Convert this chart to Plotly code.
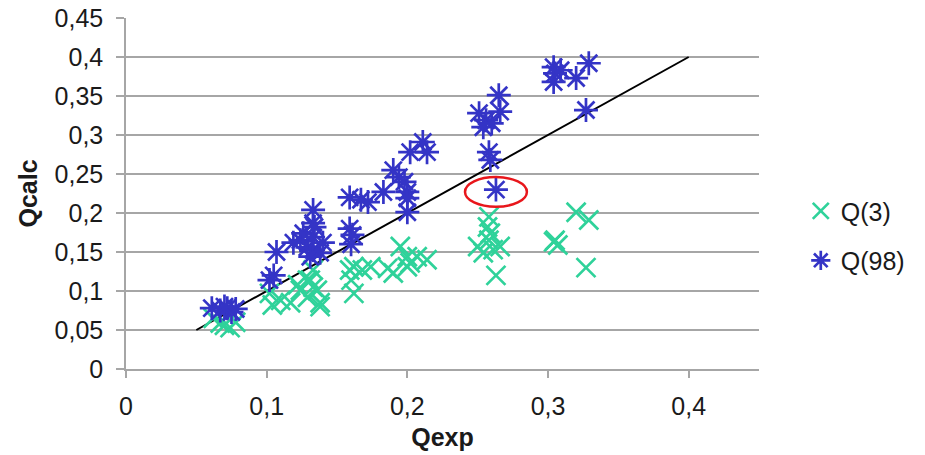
import plotly.graph_objects as go

# ---- data ----
q3_x = [0.062, 0.067, 0.074, 0.078, 0.070,
        0.102, 0.104, 0.110, 0.117, 0.124, 0.131, 0.133, 0.136, 0.138, 0.129, 0.122, 0.129, 0.133, 0.138,
        0.159, 0.160, 0.162, 0.168, 0.162, 0.174, 0.186, 0.195, 0.200, 0.200, 0.190, 0.207, 0.214, 0.202,
        0.258, 0.257, 0.259, 0.258, 0.250, 0.266, 0.254, 0.261, 0.263,
        0.304, 0.307, 0.305, 0.320, 0.329, 0.327]
q3_y = [0.065, 0.059, 0.053, 0.060, 0.056,
        0.097, 0.082, 0.088, 0.085, 0.101, 0.114, 0.127, 0.101, 0.085, 0.092, 0.108, 0.114, 0.105, 0.080,
        0.127, 0.114, 0.097, 0.127, 0.131, 0.131, 0.129, 0.157, 0.144, 0.131, 0.123, 0.144, 0.140, 0.136,
        0.195, 0.182, 0.174, 0.165, 0.157, 0.157, 0.149, 0.153, 0.120,
        0.163, 0.159, 0.165, 0.201, 0.191, 0.130]

q98_x = [0.061, 0.067, 0.072, 0.075, 0.078, 0.070,
         0.102, 0.105, 0.107,
         0.119, 0.124, 0.129, 0.133, 0.138, 0.126, 0.133, 0.140, 0.131, 0.133, 0.133, 0.134,
         0.159, 0.160, 0.161, 0.159, 0.167, 0.172,
         0.183, 0.190, 0.194, 0.198, 0.200, 0.200, 0.200, 0.202, 0.211, 0.214,
         0.251, 0.256, 0.254, 0.260, 0.265, 0.266, 0.258, 0.259, 0.263,
         0.304, 0.305, 0.304, 0.309, 0.320, 0.329, 0.327]
q98_y = [0.078, 0.075, 0.078, 0.073, 0.077, 0.080,
         0.114, 0.120, 0.150,
         0.162, 0.165, 0.156, 0.153, 0.149, 0.174, 0.169, 0.162, 0.144, 0.187, 0.204, 0.182,
         0.180, 0.160, 0.172, 0.220, 0.217, 0.214,
         0.227, 0.255, 0.246, 0.240, 0.227, 0.219, 0.201, 0.278, 0.291, 0.278,
         0.328, 0.319, 0.310, 0.315, 0.351, 0.330, 0.278, 0.268, 0.230,
         0.387, 0.379, 0.368, 0.383, 0.373, 0.392, 0.332]

ref_line_x = [0.05, 0.4]
ref_line_y = [0.05, 0.4]

# highlighted point (red ellipse bounds, data units)
ellipse_x = [0.241, 0.285]
ellipse_y = [0.208, 0.246]

y_tickvals = [0, 0.05, 0.1, 0.15, 0.2, 0.25, 0.3, 0.35, 0.4, 0.45]
y_ticktext = ["0", "0,05", "0,1", "0,15", "0,2", "0,25", "0,3", "0,35", "0,4", "0,45"]
x_tickvals = [0, 0.1, 0.2, 0.3, 0.4]
x_ticktext = ["0", "0,1", "0,2", "0,3", "0,4"]

GREEN = "#2fd29a"
BLUE = "#3434c6"
GRID = "#a6a6a6"
TXT = "#1a1a1a"
FONT = "Liberation Sans, Arial, sans-serif"
FS = 25

fig = go.Figure()
fig.add_trace(go.Scatter(
    x=ref_line_x, y=ref_line_y, mode="lines",
    line=dict(color="black", width=2), showlegend=False, hoverinfo="skip"))
fig.add_trace(go.Scatter(
    x=q3_x, y=q3_y, mode="markers", name="Q(3)", legendgroup="a",
    marker=dict(symbol="x-thin", size=19, line=dict(color=GREEN, width=2.7), color=GREEN)))
fig.add_trace(go.Scatter(
    x=q98_x, y=q98_y, mode="markers", name="Q(98)", legendgroup="b",
    marker=dict(symbol="asterisk", size=20, line=dict(color=BLUE, width=2.7), color=BLUE)))

fig.add_shape(type="circle", xref="x", yref="y",
              x0=ellipse_x[0], x1=ellipse_x[1], y0=ellipse_y[0], y1=ellipse_y[1],
              line=dict(color="#e8161b", width=2.5))

fig.update_layout(
    width=925, height=455,
    margin=dict(l=118, r=174, t=10, b=94, autoexpand=False),
    paper_bgcolor="white", plot_bgcolor="white",
    font=dict(family=FONT, size=FS, color=TXT),
    legend=dict(x=1.066, xanchor="left", y=0.38, yanchor="middle",
                font=dict(size=FS, color=TXT), tracegroupgap=14,
                bgcolor="rgba(0,0,0,0)", itemwidth=30),
    xaxis=dict(range=[0, 0.45], tickvals=x_tickvals, ticktext=x_ticktext,
               showgrid=False, zeroline=False, showline=True, linecolor=GRID, linewidth=1.5,
               ticks="outside", ticklen=7, tickcolor=GRID, tickwidth=1.5,
               tickfont=dict(size=FS, color=TXT), automargin=False,
               ticklabelstandoff=7, ticklabeloverflow="allow",
               title=dict(text="<b>Qexp</b>", font=dict(size=FS, color=TXT), standoff=10)),
    yaxis=dict(range=[0, 0.45], tickvals=y_tickvals, ticktext=y_ticktext,
               showgrid=True, gridcolor=GRID, gridwidth=1.5, zeroline=False,
               showline=True, linecolor=GRID, linewidth=1.5,
               ticks="outside", ticklen=8, tickcolor=GRID, tickwidth=1.5,
               tickfont=dict(size=FS, color=TXT), automargin=False,
               ticklabelstandoff=8, ticklabeloverflow="allow",
               title=dict(text="<b>Qcalc</b>", font=dict(size=FS, color=TXT), standoff=10)),
)

fig.write_html("out.html")
